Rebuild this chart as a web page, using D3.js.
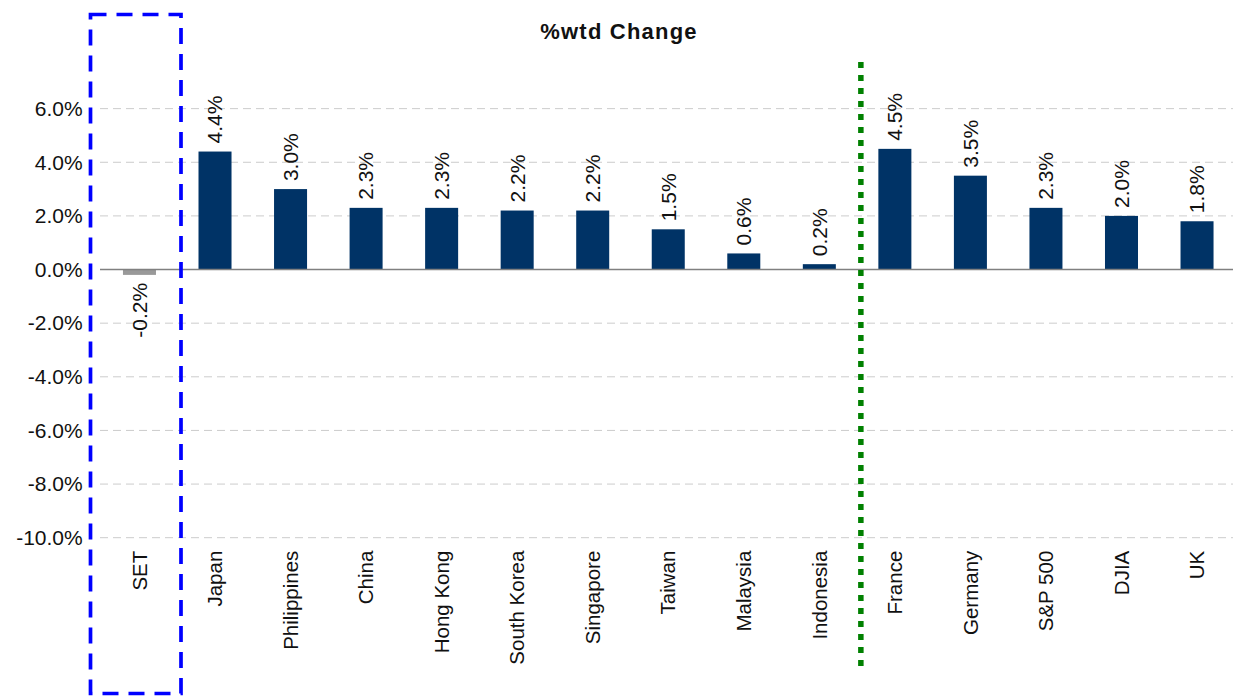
<!DOCTYPE html>
<html lang="en">
  <head>
    <meta charset="UTF-8" />
    <title>%wtd Change</title>
    <script src="https://d3js.org/d3.v7.min.js"></script>
    <style>
      body {
        margin: 0;
        background: white;
      }
      svg text {
        font-family: "Liberation Sans", Arial, sans-serif;
        fill: #111;
      }
      .grid line {
        stroke: #cccccc;
        stroke-width: 1;
        stroke-dasharray: 8, 5;
      }
    </style>
  </head>
  <body>
    <svg id="chart" width="1233" height="697"></svg>
    <script>
      // chart data
      const markets = ["SET", "Japan", "Philippines", "China", "Hong Kong", "South Korea", "Singapore",
        "Taiwan", "Malaysia", "Indonesia", "France", "Germany", "S&P 500", "DJIA", "UK"];
      const changes = [-0.2, 4.4, 3.0, 2.3, 2.3, 2.2, 2.2, 1.5, 0.6, 0.2, 4.5, 3.5, 2.3, 2.0, 1.8];
      const yTicks = [-10, -8, -6, -4, -2, 0, 2, 4, 6];

      // plain hyphen for negatives, like the source chart
      const pct = (v) => d3.format(".1f")(v).replace("\u2212", "-") + "%";

      const svg = d3.select("#chart");
      const plotLeft = 101.7, plotRight = 1234.8, plotTop = 55, plotBottom = 537.7;

      const x = d3.scaleBand().domain(markets).range([plotLeft, plotRight]).paddingInner(0.563).paddingOuter(0.2815);
      const y = d3.scaleLinear().domain([-10, 8]).range([plotBottom, plotTop]);

      // title
      svg.append("text")
        .attr("x", 619).attr("y", 39)
        .attr("text-anchor", "middle")
        .style("font-size", "22px").style("font-weight", "bold")
        .style("letter-spacing", "1.2px")
        .text("%wtd Change");

      // gridlines
      svg.append("g").attr("class", "grid")
        .selectAll("line")
        .data(yTicks.filter((d) => d !== 0))
        .join("line")
        .attr("x1", 100).attr("x2", 1233)
        .attr("y1", (d) => y(d)).attr("y2", (d) => y(d));

      // y axis labels
      const yAxis = svg.append("g")
        .attr("transform", `translate(${plotLeft - 19},0)`)
        .call(d3.axisLeft(y).tickValues(yTicks).tickSize(0).tickPadding(0).tickFormat(pct));
      yAxis.select(".domain").remove();
      yAxis.selectAll("text")
        .style("font-size", "21px")
        .style("font-family", "'Liberation Sans', Arial, sans-serif")
        .attr("fill", "#111");

      // bars
      svg.append("g")
        .selectAll("rect")
        .data(markets)
        .join("rect")
        .attr("x", (d) => x(d))
        .attr("width", x.bandwidth())
        .attr("y", (d, i) => y(Math.max(0, changes[i])))
        .attr("height", (d, i) => Math.abs(y(changes[i]) - y(0)))
        .attr("fill", (d, i) => (changes[i] < 0 ? "#999999" : "#003366"));

      // zero line
      svg.append("line")
        .attr("x1", 100).attr("x2", 1233)
        .attr("y1", y(0)).attr("y2", y(0))
        .attr("stroke", "#808080").attr("stroke-width", 1.5);

      // value labels
      svg.append("g")
        .selectAll("text")
        .data(markets)
        .join("text")
        .attr("transform", (d, i) => {
          const cx = x(d) + x.bandwidth() / 2;
          const cy = changes[i] >= 0 ? y(changes[i]) - 8 : y(changes[i]) + 8;
          return `translate(${cx},${cy}) rotate(-90)`;
        })
        .attr("dy", "0.35em")
        .attr("text-anchor", (d, i) => (changes[i] >= 0 ? "start" : "end"))
        .style("font-size", "21px")
        .text((d, i) => pct(changes[i]));

      // category labels
      svg.append("g")
        .selectAll("text")
        .data(markets)
        .join("text")
        .attr("transform", (d) => `translate(${x(d) + x.bandwidth() / 2},${plotBottom + 13}) rotate(-90)`)
        .attr("dy", "0.35em")
        .attr("text-anchor", "end")
        .style("font-size", "20.5px")
        .text((d) => d);

      // blue dashed box around SET
      svg.append("rect")
        .attr("x", 90.5).attr("y", 14.5)
        .attr("width", 90.5).attr("height", 679)
        .attr("fill", "none")
        .attr("stroke", "#0000ff").attr("stroke-width", 3.7)
        .attr("stroke-dasharray", "16,10");

      // green dotted separator between Asia and West
      const sepX = x("France") - 17.5;
      svg.append("line")
        .attr("x1", sepX).attr("x2", sepX)
        .attr("y1", 62).attr("y2", 667)
        .attr("stroke", "#008000").attr("stroke-width", 5.5)
        .attr("stroke-dasharray", "6,7");
    </script>
  </body>
</html>
